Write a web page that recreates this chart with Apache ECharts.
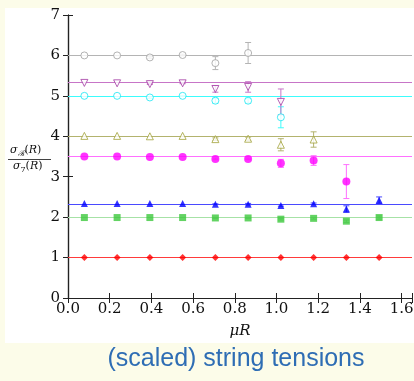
<!DOCTYPE html>
<html>
<head>
<meta charset="utf-8">
<script src="https://cdn.jsdelivr.net/npm/echarts@6/dist/echarts.min.js"></script>
<style>
  html, body { margin: 0; padding: 0; background: #fcfce9; }
  #chart { width: 414px; height: 381px; }
</style>
</head>
<body>
<div id="chart"></div>
<script>
// μR values at which the ratios were measured
const muR = [0.0785, 0.2356, 0.3927, 0.5498, 0.7069, 0.8639, 1.0210, 1.1781, 1.3352, 1.4923];

// expected ratio for each representation (horizontal reference lines)
const levels = [1, 2, 2.333, 3.5, 4, 5, 5.333, 6];

// measured ratios sigma_R / sigma_7 and their errors
const redVals     = [1.00, 1.00, 1.00, 1.00, 1.00, 1.00, 1.00, 1.00, 1.00, 1.00];
const redErr      = [0, 0, 0, 0, 0, 0, 0, 0, 0, 0];
const greenVals   = [1.99, 1.99, 1.99, 1.99, 1.98, 1.98, 1.95, 1.97, 1.90, 1.99];
const greenErr    = [0, 0, 0, 0, 0.01, 0.01, 0.02, 0.02, 0.03, 0.04];
const blueVals    = [2.34, 2.34, 2.34, 2.34, 2.32, 2.32, 2.29, 2.33, 2.20, 2.42];
const blueErr     = [0, 0, 0, 0, 0.01, 0.02, 0.02, 0.02, 0.08, 0.08];
const magentaVals = [3.50, 3.50, 3.49, 3.49, 3.44, 3.44, 3.33, 3.40, 2.88];
const magentaErr  = [0, 0, 0, 0, 0.02, 0.02, 0.10, 0.12, 0.42];
const oliveVals   = [4.01, 4.01, 4.00, 4.01, 3.93, 3.94, 3.79, 3.92];
const oliveErr    = [0, 0, 0, 0, 0.03, 0.04, 0.15, 0.19];
const cyanVals    = [5.00, 5.00, 4.96, 5.00, 4.88, 4.88, 4.47];
const cyanErr     = [0, 0, 0.02, 0.01, 0.06, 0.06, 0.26];
const purpleVals  = [5.32, 5.31, 5.29, 5.31, 5.17, 5.22, 4.85];
const purpleErr   = [0, 0, 0.01, 0.01, 0.08, 0.13, 0.32];
const grayVals    = [6.00, 6.00, 5.95, 6.01, 5.81, 6.06];
const grayErr     = [0, 0, 0.02, 0.02, 0.16, 0.26];

// axis ticks
const xTicks = [0, 0.2, 0.4, 0.6, 0.8, 1.0, 1.2, 1.4, 1.6];
const yTicks = [0, 1, 2, 3, 4, 5, 6, 7];

const reps = [
  { vals: redVals,     errs: redErr,     level: levels[0], color: '#ff0000', line: '#ff3b3b', symbol: 'diamond',  size: 7, open: false },
  { vals: greenVals,   errs: greenErr,   level: levels[1], color: '#3cc83c', line: '#a6e2a6', symbol: 'rect',     size: 7, open: false },
  { vals: blueVals,    errs: blueErr,    level: levels[2], color: '#0000ff', line: '#4a4aff', symbol: 'triangle', size: 7, open: false },
  { vals: magentaVals, errs: magentaErr, level: levels[3], color: '#ff00ff', line: '#ff70ff', symbol: 'circle',   size: 8, open: false },
  { vals: oliveVals,   errs: oliveErr,   level: levels[4], color: '#a3a33a', line: '#b3b36e', symbol: 'triangle', size: 7, open: true },
  { vals: cyanVals,    errs: cyanErr,    level: levels[5], color: '#1ae6f2', line: '#3dfcfc', symbol: 'circle',   size: 7, open: true },
  { vals: purpleVals,  errs: purpleErr,  level: levels[6], color: '#a33aa3', line: '#c775c7', symbol: 'triangle', size: 7, open: true, rotate: 180 },
  { vals: grayVals,    errs: grayErr,    level: levels[7], color: '#a0a0a0', line: '#b4b4b4', symbol: 'circle',   size: 7, open: true }
];

const serif = 'DejaVu Serif';
const chart = echarts.init(document.getElementById('chart'), null, { renderer: 'canvas' });

function errorBars(color) {
  return function (params, api) {
    const x = api.value(0), y = api.value(1), e = api.value(2);
    if (!(e > 0)) return null;
    const lo = api.coord([x, y - e]);
    const hi = api.coord([x, y + e]);
    const cap = 3;
    const style = { stroke: color, lineWidth: 1 };
    return {
      type: 'group',
      children: [
        { type: 'line', shape: { x1: lo[0], y1: lo[1], x2: hi[0], y2: hi[1] }, style },
        { type: 'line', shape: { x1: lo[0] - cap, y1: lo[1], x2: lo[0] + cap, y2: lo[1] }, style },
        { type: 'line', shape: { x1: hi[0] - cap, y1: hi[1], x2: hi[0] + cap, y2: hi[1] }, style }
      ]
    };
  };
}

const series = [];
reps.forEach(function (r) {
  const pts = r.vals.map(function (v, i) { return [muR[i], v]; });
  const bars = r.vals.map(function (v, i) { return [muR[i], v, r.errs[i]]; });
  series.push({
    type: 'custom',
    xAxisIndex: 0, yAxisIndex: 0,
    renderItem: errorBars(r.line),
    data: bars,
    z: 3,
    silent: true,
    animation: false
  });
  series.push({
    type: 'scatter',
    xAxisIndex: 0, yAxisIndex: 0,
    data: pts,
    symbol: r.symbol,
    symbolSize: r.size,
    symbolRotate: r.rotate || 0,
    itemStyle: r.open
      ? { color: '#ffffff', borderColor: r.color, borderWidth: 1 }
      : { color: r.color },
    z: 4,
    silent: true,
    animation: false,
    markLine: {
      silent: true,
      symbol: ['none', 'none'],
      label: { show: false },
      lineStyle: { color: r.line, width: 1.2, type: 'solid' },
      emphasis: { disabled: true },
      animation: false,
      z: 2,
      data: [{ yAxis: r.level }]
    }
  });
});

const tickStyle = { show: true, inside: true, length: 5, lineStyle: { color: '#222', width: 1 } };
const axisLine = { show: true, lineStyle: { color: '#222', width: 1.2 } };

chart.setOption({
  backgroundColor: '#fcfce9',
  animation: false,
  grid: {
    left: 68, top: 15, right: 2, bottom: 83,
    containLabel: false,
    outerBoundsMode: 'none'
  },
  graphic: [
    { type: 'rect', z: -10, silent: true,
      shape: { x: 5, y: 8, width: 409, height: 335 },
      style: { fill: '#ffffff' } },
    // y axis title: sigma_R(R) / sigma_7(R)
    { type: 'text', left: 10, top: 145, silent: true,
      style: {
        text: '{i|σ}{sub|ℛ}{n|(}{i|R}{n|)}',
        rich: {
          i: { fontFamily: serif, fontStyle: 'italic', fontSize: 11, lineHeight: 13, verticalAlign: 'top' },
          n: { fontFamily: serif, fontSize: 11, lineHeight: 13, verticalAlign: 'top' },
          sub: { fontFamily: serif, fontStyle: 'italic', fontSize: 8, lineHeight: 13, verticalAlign: 'bottom', padding: [4, 0, 0, 0] }
        },
        fill: '#111'
      } },
    { type: 'line', silent: true,
      shape: { x1: 8, y1: 159.5, x2: 51, y2: 159.5 },
      style: { stroke: '#111', lineWidth: 0.8 } },
    { type: 'text', left: 13, top: 161, silent: true,
      style: {
        text: '{i|σ}{sub|7}{n|(}{i|R}{n|)}',
        rich: {
          i: { fontFamily: serif, fontStyle: 'italic', fontSize: 11, lineHeight: 13, verticalAlign: 'top' },
          n: { fontFamily: serif, fontSize: 11, lineHeight: 13, verticalAlign: 'top' },
          sub: { fontFamily: serif, fontSize: 8, lineHeight: 13, verticalAlign: 'bottom', padding: [4, 0, 0, 0] }
        },
        fill: '#111'
      } },
    // caption
    { type: 'text', x: 236, y: 359, silent: true,
      style: {
        text: '(scaled) string tensions',
        fontFamily: 'Liberation Sans',
        fontSize: 25,
        fill: '#2e6db4',
        align: 'center',
        verticalAlign: 'middle'
      } }
  ],
  xAxis: [
    {
      type: 'value', position: 'bottom',
      min: 0, max: 1.65, interval: 0.2,
      axisLine: axisLine, axisTick: tickStyle, splitLine: { show: false },
      axisLabel: {
        margin: 4, fontFamily: serif, fontSize: 15, color: '#111',
        formatter: function (v) { return xTicks.some(function (t) { return Math.abs(t - v) < 1e-9; }) ? v.toFixed(1) : ''; }
      },
      name: 'μR', nameLocation: 'middle', nameGap: 26,
      nameTextStyle: { fontFamily: serif, fontStyle: 'italic', fontSize: 15, color: '#111' }
    },
    {
      type: 'value', position: 'top',
      min: 0, max: 1.65, interval: 0.2,
      axisLine: axisLine, axisTick: tickStyle, splitLine: { show: false },
      axisLabel: { show: false }
    }
  ],
  yAxis: [
    {
      type: 'value', position: 'left',
      min: 0, max: 7, interval: 1,
      axisLine: axisLine, axisTick: tickStyle, splitLine: { show: false },
      axisLabel: {
        margin: 8, fontFamily: serif, fontSize: 15, color: '#111',
        formatter: function (v) { return yTicks.indexOf(v) >= 0 ? String(v) : ''; }
      }
    },
    {
      type: 'value', position: 'right',
      min: 0, max: 7, interval: 1,
      axisLine: axisLine, axisTick: tickStyle, splitLine: { show: false },
      axisLabel: { show: false }
    }
  ],
  series: series
});
</script>
</body>
</html>
